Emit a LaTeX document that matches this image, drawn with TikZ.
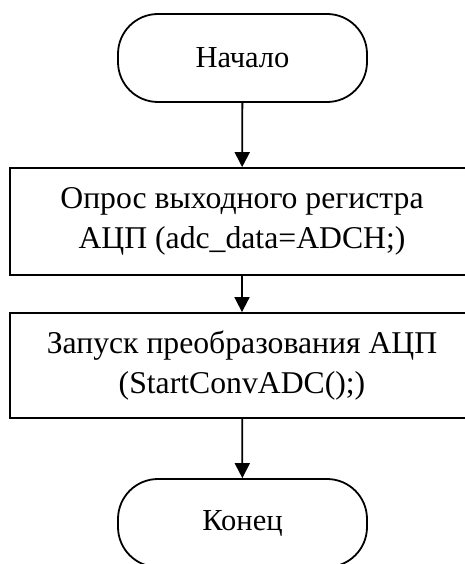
\documentclass[tikz,border=0pt]{standalone}
\usepackage{fontspec}
\setmainfont{Liberation Serif}
\usetikzlibrary{arrows.meta}
\begin{document}
\begin{tikzpicture}[x=1pt,y=-1pt,
  every node/.style={line width=1.8pt, draw=black, inner sep=0pt},
  terminal/.style={rectangle, rounded corners=40pt, minimum width=249pt, minimum height=88pt,
    font=\fontsize{30.5}{40}\selectfont},
  process/.style={rectangle, minimum width=464pt, align=center,
    font=\fontsize{31.7}{40}\selectfont},
  flow/.style={line width=1.8pt, -{Triangle[width=15pt,length=15pt]}}]
  \useasboundingbox (0,0) rectangle (465,564);
  \clip (0,0) rectangle (465,564);
  \node[terminal] (start) at (242.5,58) {Начало};
  \node[process, minimum height=107pt] (read) at (242,221.5)
    {Опрос выходного регистра\\АЦП (adc\_data=ADCH;)};
  \node[process, minimum height=105pt] (conv) at (242,365.5)
    {Запуск преобразования АЦП\\(StartConvADC();)};
  \node[terminal] (stop) at (242.5,523) {Конец};
  \draw[flow] (start) -- (read);
  \draw[flow] (read) -- (conv);
  \draw[flow] (conv) -- (stop);
\end{tikzpicture}
\end{document}
